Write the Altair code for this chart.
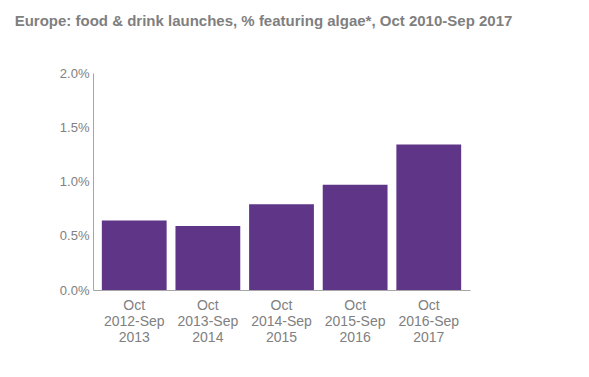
import altair as alt
import pandas as pd

periods = ["Oct|2012-Sep|2013", "Oct|2013-Sep|2014", "Oct|2014-Sep|2015",
           "Oct|2015-Sep|2016", "Oct|2016-Sep|2017"]
shares = [0.0064, 0.0059, 0.0079, 0.0097, 0.0134]
y_ticks = [0.0, 0.005, 0.010, 0.015, 0.020]

df = pd.DataFrame({"period": periods, "share": shares})

chart = alt.Chart(df).mark_bar(color="#5E3587").encode(
    x=alt.X("period:N", sort=periods,
            scale=alt.Scale(paddingInner=0.12, paddingOuter=0.12),
            axis=alt.Axis(title=None, labelAngle=0, ticks=False,
                          labelExpr="split(datum.label, '|')",
                          labelFontSize=14, labelLineHeight=16,
                          labelPadding=8, labelColor="#808080",
                          domainColor="#a6a6a6", labelFont="Liberation Sans")),
    y=alt.Y("share:Q", scale=alt.Scale(domain=[0, 0.02]),
            axis=alt.Axis(title=None, values=y_ticks, format=".1%", grid=False,
                          ticks=False, labelPadding=4, labelFontSize=13,
                          labelColor="#808080", domainColor="#a6a6a6",
                          labelFont="Liberation Sans")),
).properties(
    width=377, height=217,
    title=alt.TitleParams(
        "Europe: food & drink launches, % featuring algae*, Oct 2010-Sep 2017",
        font="Liberation Sans", fontSize=15, fontWeight="bold", color="#7f7f7f",
        anchor="middle", frame="group", dx=-18, offset=38),
    autosize=alt.AutoSizeParams(type="none"),
    padding={"left": 85, "top": 65, "right": 111, "bottom": 79},
).configure_view(stroke=None)

chart.save("out.html", embed_options={"renderer": "svg", "actions": False})
